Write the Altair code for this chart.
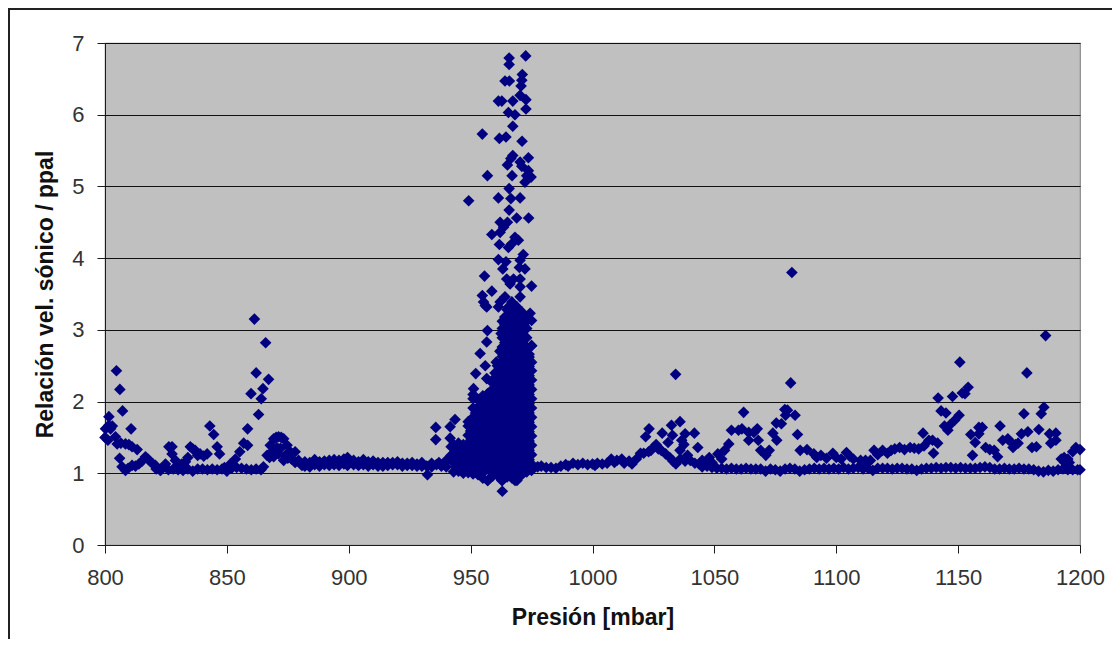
import altair as alt
import pandas as pd

x_ticks = [800, 850, 900, 950, 1000, 1050, 1100, 1150, 1200]
y_ticks = [0, 1, 2, 3, 4, 5, 6, 7]

left_points = [(804.7,2.43),(806.1,2.17),(807.2,1.87),(810.7,1.62),(801.6,1.79),(800.2,1.62),(801.6,1.67),(803,1.66),(802.3,1.62),
 (800,1.50),(801.2,1.46),(804.3,1.51),(805,1.41),(806.5,1.42),(808.4,1.41),(809.8,1.40),(811.1,1.37),(813.2,1.33),(806,1.21),(807,1.09),(808.4,1.04),
 (809.5,1.07),(811.1,1.11),(812.5,1.10),(813.9,1.13),(815.2,1.17),(816.6,1.23),(817.6,1.20),(818.7,1.16),(819.7,1.13),(820.7,1.11),(822.7,1.04),(823.8,1.08),(824.8,1.13),
 (826.2,1.37),(827.5,1.37),(827.5,1.27),(828.9,1.18),(830.3,1.11),(831.5,1.13),(833,1.16),(834,1.22),(835,1.37),(836,1.34),(837,1.32),(838,1.25),(839,1.27),(840.5,1.24),(841.9,1.27),
 (843,1.66),(844.6,1.54),(846,1.37),(847,1.27),(821,1.06),(823,1.05),(826,1.05),(828,1.06),(830,1.05),(832,1.04),(834,1.06),(836,1.03),(838,1.06),(840,1.06),(842,1.05),(844,1.06),(846,1.05),(848,1.06),(850,1.03),(852,1.07),(854,1.08),(856,1.07),(858,1.06),(860,1.05),(862,1.06),(864,1.05),(865,1.09),
 (849,1.08),(851.4,1.13),(853.5,1.20),(855.3,1.30),(856.9,1.42),(858.5,1.39),(858.5,1.62),(859.9,2.11),(861.3,3.15),(862,2.40),(863,1.82),(864.1,2.04),(864.8,2.18),(865.9,2.82),(867.1,2.31)]

hump_points = [(866.5,1.25),(867.8,1.39),(869.2,1.48),(870.2,1.50),(871.2,1.51),(872.3,1.50),(873.3,1.48),(874.7,1.39),(876,1.30),(878,1.30),(879.4,1.18),
 (867.5,1.22),(868.5,1.30),(869.2,1.23),(870.5,1.36),(871.2,1.27),(872,1.35),(873.3,1.18),(874,1.25),(875,1.21),(876.5,1.20),(878,1.15),(880.8,1.11)]

plateau_points = [(882,1.10),(882,1.16),(884,1.09),(884,1.15),(886,1.12),(886,1.19),(888,1.10),(888,1.16),(890,1.12),(890,1.17),(892,1.11),(892,1.18),(894,1.12),(894,1.19),(896,1.11),(896,1.18),(898,1.13),(898,1.20),(899.5,1.11),(899.5,1.22),
 (902,1.12),(902,1.18),(904,1.11),(904,1.16),(906,1.12),(906,1.19),(908,1.10),(908,1.16),(910,1.12),(910,1.17),(912,1.10),(912,1.15),(914,1.10),(914,1.15),(916,1.11),(916,1.15),(918,1.12),(918,1.15),(920,1.12),(920,1.16),(922,1.10),(922,1.14),(924,1.11),(924,1.14),(926,1.11),(926,1.15),(928,1.10),(928,1.13),(930,1.10),(930,1.15),
 (932,1.10),(932.3,0.98),(934,1.09),(934,1.14),(935.7,1.47),(935.7,1.64),(936,1.12),(937,1.15),(938,1.10),(939,1.14),(940,1.09),(940,1.18),(941.6,1.49),(941.6,1.65),(943.6,1.75),(942,1.25),(942,1.37)]

core_columns = {
 943: [1.02,1.15,1.28,1.40],
 944: [1.08,1.21,1.34],
 945: [1.03,1.15,1.27,1.42],
 946: [1.06,1.21,1.34],
 947: [1.00,1.14,1.27,1.40],
 948: [1.07,1.20,1.33,1.36],
 949: [1.01,1.14,1.27,1.40,1.53,1.66,1.72],
 950: [1.07,1.20,1.33,1.46,1.59,1.72],
 951: [0.99,1.13,1.26,1.39,1.52,1.65,1.78,1.91,2.04,2.10],
 952: [1.06,1.19,1.32,1.45,1.58,1.71,1.84,1.88],
 953: [0.98,1.12,1.25,1.38,1.51,1.64,1.77,1.90,2.03],
 954: [1.05,1.18,1.31,1.44,1.57,1.70,1.83,1.96,2.01],
 955: [0.93,1.11,1.24,1.37,1.50,1.63,1.76,1.89,2.02,2.08],
 956: [1.04,1.17,1.30,1.43,1.56,1.69,1.82,1.95,2.01],
 957: [0.90,1.10,1.23,1.36,1.49,1.62,1.75,1.88,2.01,2.11],
 958: [1.03,1.16,1.29,1.42,1.55,1.68,1.81,1.94,2.07,2.14],
 959: [0.96,1.09,1.22,1.35,1.48,1.61,1.74,1.87,2.00,2.13,2.26,2.30],
 960: [1.02,1.15,1.28,1.41,1.54,1.67,1.80,1.93,2.06,2.19,2.32,2.40],
 961: [0.97,1.08,1.21,1.34,1.47,1.60,1.73,1.86,1.99,2.12,2.25,2.38,2.50],
 962: [1.01,1.14,1.27,1.40,1.53,1.66,1.79,1.92,2.05,2.18,2.31,2.44,2.53],
 963: [0.90,1.07,1.20,1.33,1.46,1.59,1.72,1.85,1.98,2.11,2.24,2.37,2.50,2.63,2.76,2.89,3.02,3.12],
 964: [1.00,1.13,1.26,1.39,1.52,1.65,1.78,1.91,2.04,2.17,2.30,2.43,2.56,2.69,2.82,2.95,3.08,3.18],
 965: [0.95,1.06,1.19,1.32,1.45,1.58,1.71,1.84,1.97,2.10,2.23,2.36,2.49,2.62,2.75,2.88,3.01,3.14,3.28],
 966: [1.00,1.12,1.25,1.38,1.51,1.64,1.77,1.90,2.03,2.16,2.29,2.42,2.55,2.68,2.81,2.94,3.07,3.18],
 967: [0.93,1.05,1.18,1.31,1.44,1.57,1.70,1.83,1.96,2.09,2.22,2.35,2.48,2.61,2.74,2.87,3.00,3.13,3.25],
 968: [0.99,1.11,1.24,1.37,1.50,1.63,1.76,1.89,2.02,2.15,2.28,2.41,2.54,2.67,2.80,2.93,3.06,3.18],
 969: [0.90,1.04,1.17,1.30,1.43,1.56,1.69,1.82,1.95,2.08,2.21,2.34,2.47,2.60,2.73,2.86,2.99,3.12,3.28],
 970: [0.99,1.10,1.23,1.36,1.49,1.62,1.75,1.88,2.01,2.14,2.27,2.40,2.53,2.66,2.79,2.92,3.05,3.18],
 971: [0.98,1.04,1.17,1.30,1.43,1.56,1.69,1.82,1.95,2.08,2.21,2.34,2.47,2.60,2.73,2.86,2.99,3.12,3.25],
 972: [1.02,1.10,1.23,1.36,1.49,1.62,1.75,1.88,2.01,2.14,2.27,2.40,2.53,2.66,2.79,2.92,3.05,3.16],
 973: [1.02,1.07,1.20,1.33,1.46,1.59,1.72,1.85,1.98,2.11,2.24,2.37,2.50,2.63,2.76,2.89,3.02,3.12],
 974: [1.06,1.19,1.32,1.45,1.58,1.71,1.84,1.97,2.10,2.23,2.36,2.49,2.62,2.66],
 975: [1.04,1.13,1.26,1.39,1.52,1.65,1.78,1.91,2.04,2.17,2.30,2.43,2.55,2.78],
}

peak_points = [(972.6,6.82),(965.8,6.79),(965.8,6.70),(971.2,6.56),(971,6.48),(964.1,6.47),(965.9,6.47),(970.7,6.40),(970.3,6.27),(972.7,6.21),(961.4,6.19),(962.8,6.19),(967.3,6.19),(972.7,6.08),(965.5,6.03),(968.2,6.00),
 (967.3,5.84),(954.8,5.73),(961.8,5.67),(964.5,5.69),(971.1,5.63),(967.3,5.43),(973.7,5.40),(966.5,5.39),(970.3,5.34),(965.1,5.30),(971,5.28),(956.9,5.15),(967,5.15),(973.7,5.22),(973,5.15),(974.8,5.13),(972.3,5.06),
 (965.8,4.97),(949.2,4.80),(961.4,4.84),(966.5,4.83),(970.3,4.84),(965.8,4.67),(968.9,4.56),(973.8,4.56),(962.1,4.50),(965.1,4.50),(963.5,4.43),(958.7,4.33),(962.1,4.36),(968.2,4.29),(961.8,4.19),(965.5,4.15),(966.9,4.20),(969.6,4.25),
 (971.6,4.05),(970.3,3.97),(961.4,3.98),(964.5,3.95),(963.2,3.85),(970,3.87),(972.3,3.85),(955.7,3.75),(964.8,3.71),(967.6,3.71),(970.3,3.71),(975,3.61),(966.2,3.64),(970.3,3.60),(958.7,3.54),(954.8,3.48),(964.1,3.46),(970.3,3.46),(962.1,3.39),(966.9,3.39),(955.3,3.39),(956.6,3.32),(961.4,3.32),(965.5,3.32),(969,3.32),
 (956,3.34),(974.4,3.23),(975,3.13),(956.9,2.99),(975,2.78),(956.6,2.83),(953.9,2.67),(956,2.50),(952.1,2.39),(956.6,2.32),(951.2,2.18),(962,2.70),(962.5,2.95),(960.5,2.55),(963,0.75),(957,0.90),(968.2,0.90),(962.8,0.90)]

center_right_points = [(977.5,1.09),(979,1.10),(981,1.08),(983,1.08),(985,1.07),(987,1.10),(989,1.12),(990,1.10),(992,1.14),(994,1.12),(996,1.14),(998,1.12),(1000,1.13),(1001,1.11),(1002,1.14),(1004,1.13),(1006,1.14),(1007.7,1.20),(1009,1.15),(1010,1.18),(1012,1.20),(1013,1.14),(1015,1.17),(1016.2,1.13),(1018,1.20)]

right_upper_points = [(1019.7,1.28),(1021.8,1.51),(1023.2,1.62),(1028.6,1.56),(1032.4,1.67),(1035.9,1.72),(1032.8,1.53),(1031,1.43),(1038,1.55),(1036.6,1.46),(1041.8,1.56),(1035.9,1.32),(1043.2,1.36),(1037.5,1.40),(1039,1.25),
 (1021,1.28),(1023,1.30),(1024,1.32),(1025,1.36),(1026.1,1.40),(1027,1.34),(1028.2,1.32),(1030,1.27),(1031.7,1.22),(1033,1.17),(1034.2,1.13),(1036,1.20),(1038,1.17),(1040.1,1.18),(1042,1.14),(1043.7,1.13),(1045,1.18),(1046,1.14),(1047.9,1.22),(1049,1.15),(1051.4,1.27),(1053,1.20),(1054.2,1.32),(1055.9,1.41),
 (1057,1.60),(1059.9,1.60),(1062,1.85),(1061.3,1.62),(1064.1,1.57),(1064.1,1.46),(1067.6,1.62),(1066.2,1.57),(1068,1.46),(1069,1.32),(1072.5,1.32),(1071.1,1.25),(1074,1.56),(1075.6,1.46),(1075.4,1.70),(1077.5,1.69),(1078.9,1.89),(1080,1.88),(1079.2,1.81),(1083.1,1.81),(1084.1,1.54),(1081.8,3.80),(1034.1,2.38),(1081.3,2.26),
 (1085.2,1.32),(1088,1.33),(1090.8,1.27),(1092,1.22),(1093.7,1.25),(1096,1.21),(1098.6,1.28),(1100,1.22),(1102,1.20),(1104.2,1.29),(1105.5,1.24),(1107,1.20),(1110,1.18),(1112,1.18),(1114,1.18),
 (1115.5,1.32),(1117,1.26),(1119,1.32),(1121,1.28),(1122.5,1.32),(1124,1.34),(1126,1.36),(1128,1.33),(1130.3,1.36),(1132,1.35),(1133.8,1.34),(1135.6,1.56),(1136,1.38),(1138,1.46),(1139.5,1.46),(1141.6,1.42),(1139.9,1.28),
 (1141.8,2.05),(1143,1.87),(1145,1.84),(1150.4,1.81),(1148.6,1.74),(1146.5,1.67),(1144.4,1.66),(1145.8,1.60),(1147.7,2.07),(1150.7,2.55),(1154.1,2.20),(1152.8,2.11),(1151.7,2.12),(1158.5,1.64),(1159.9,1.64),(1155.2,1.54),(1158.5,1.55),(1157,1.43),(1155.9,1.25),
 (1161.3,1.36),(1163,1.33),(1164.8,1.32),(1166.2,1.23),(1167.2,1.66),(1168.3,1.46),(1170.4,1.48),(1171.5,1.44),(1172.5,1.36),(1173.5,1.40),(1174.6,1.42),(1176,1.55),(1177,1.83),(1178.2,2.40),(1178.6,1.58),(1180.3,1.36),(1182.1,1.37),(1183.1,1.61),(1184.1,1.83),(1185.2,1.92),(1185.9,2.92),(1187.5,1.55),(1188,1.42),(1190.1,1.56),(1190.1,1.46),
 (1192.3,1.20),(1193.5,1.22),(1193.7,1.15),(1195,1.20),(1195.6,1.15),(1197,1.30),(1198.3,1.36),(1200,1.33)]

right_lower_points = [(1045,1.09),(1047,1.10),(1049,1.08),(1051,1.07),(1053,1.07),(1055,1.06),(1057,1.07),(1059,1.06),(1061,1.06),(1063,1.07),(1065,1.06),(1067,1.06),(1069,1.06),(1071,1.03),(1073,1.06),(1075,1.05),(1077,1.03),(1079,1.06),(1081,1.07),(1083,1.06),(1085,1.03),(1087,1.05),(1089,1.06),(1091,1.07),(1093,1.06),(1095,1.07),(1097,1.06),(1099,1.07),(1101,1.06),(1103,1.08),(1105,1.06),(1107,1.07),(1109,1.08),(1111,1.06),(1113,1.07),(1115,1.04),(1117,1.07),(1119,1.07),(1121,1.07),(1123,1.06),(1125,1.07),(1127,1.07),(1129,1.06),(1131,1.06),(1133,1.04),(1135,1.06),(1137,1.07),(1139,1.07),(1141,1.08),(1143,1.07),(1145,1.08),(1147,1.08),(1149,1.07),(1151,1.08),(1153,1.07),(1155,1.07),(1157,1.07),(1159,1.08),(1161,1.09),(1163,1.08),(1165,1.06),(1167,1.06),(1169,1.07),(1171,1.06),(1173,1.06),(1175,1.07),(1177,1.06),(1179,1.06),(1181,1.05),(1183,1.03),(1185,1.02),(1187,1.04),(1189,1.03),(1191,1.05),(1193,1.06),(1195,1.05),(1197,1.05),(1199,1.05),(1200,1.05)]

rows = []
for group in (left_points, hump_points, plateau_points, peak_points, center_right_points, right_upper_points, right_lower_points):
    rows.extend(group)
for column, values in core_columns.items():
    rows.extend((column, v) for v in values)
df = pd.DataFrame(rows, columns=["presion", "relacion"])

FONT = "Liberation Sans"
INK = "#1c1c1c"

points = alt.Chart(df).mark_point(shape="diamond", filled=True, size=135, color="#000080", opacity=1, clip=False).encode(
    x=alt.X("presion:Q", scale=alt.Scale(domain=[800, 1200], nice=False, zero=False),
            axis=alt.Axis(values=x_ticks, grid=False, title="Presión [mbar]", format="d",
                          domainColor=INK, tickColor=INK, tickSize=8, labelPadding=14, labelFlush=False,
                          labelColor="#333333", labelFontSize=22, labelFont=FONT,
                          titleFont=FONT, titleFontSize=23, titleFontWeight="bold", titleColor="#111111", titlePadding=18)),
    y=alt.Y("relacion:Q", scale=alt.Scale(domain=[0, 7], nice=False),
            axis=alt.Axis(values=y_ticks, grid=True, gridColor="#111111", gridWidth=1.2, title="Relación vel. sónico / ppal", format="d",
                          domainColor=INK, tickColor=INK, tickSize=8, labelPadding=13, labelFlush=False,
                          labelColor="#333333", labelFontSize=22, labelFont=FONT,
                          titleFont=FONT, titleFontSize=23, titleFontWeight="bold", titleColor="#111111", titlePadding=14)),
)

frame_left = alt.Chart(df).mark_rule(color="#222222", strokeWidth=1.5).encode(
    x=alt.value(-96.2), y=alt.value(-34.6), y2=alt.value(610))
frame_top = alt.Chart(df).mark_rule(color="#222222", strokeWidth=1.5).encode(
    x=alt.value(-96.2), x2=alt.value(1007), y=alt.value(-34.2))

chart = alt.layer(frame_left, frame_top, points).properties(
    width=975, height=502,
    autosize=alt.AutoSizeParams(type="none"),
    padding={"left": 97, "top": 35, "right": 32, "bottom": 94},
    background="white",
).configure_view(fill="#C0C0C0", stroke="#8a8a8a", strokeWidth=1.2)

chart.save("out.html", embed_options={"renderer": "svg", "actions": False})
